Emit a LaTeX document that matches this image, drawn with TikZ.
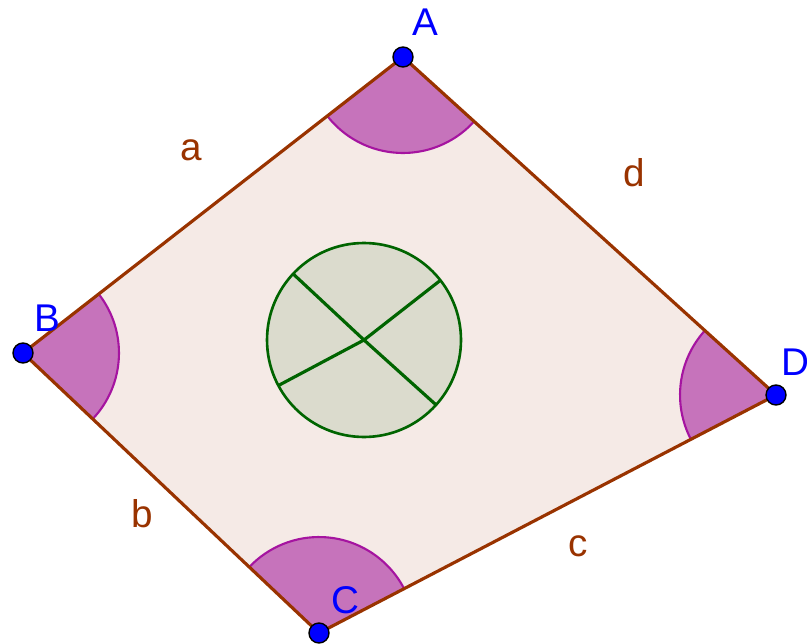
\documentclass[tikz,border=0pt]{standalone}
\usepackage{fontspec}
\setmainfont{Liberation Sans}
\usetikzlibrary{angles}
\definecolor{sidebrown}{RGB}{153,51,0}
\definecolor{quadfill}{RGB}{245,234,230}
\definecolor{anglefill}{RGB}{198,115,187}
\definecolor{angleedge}{RGB}{165,20,160}
\definecolor{discfill}{RGB}{219,219,205}
\definecolor{discgreen}{RGB}{0,100,0}
\definecolor{ptblue}{RGB}{0,0,255}

\begin{document}
\begin{tikzpicture}[x=0.02cm,y=0.02cm,
    side/.style={draw=sidebrown, line width=1.8pt, line join=round},
    sector/.style={draw=angleedge, fill=anglefill, line width=1.2pt, angle radius=1.92cm},
    disc/.style={circle, draw=discgreen, fill=discfill, line width=1.5pt,
        minimum size=3.88cm, inner sep=0pt, outer sep=0pt},
    radial/.style={discgreen, line width=1.8pt},
    vertex/.style={circle, fill=ptblue, draw=black, line width=0.8pt,
        inner sep=0pt, minimum size=0.4cm},
    ptlabel/.style={text=ptblue, font=\fontsize{22}{26}\selectfont},
    sidelabel/.style={text=sidebrown, font=\fontsize{22}{26}\selectfont}]
    \useasboundingbox (0,0) rectangle (807,643);

    % Vertices of the quadrilateral
    \coordinate (A) at (403,586);
    \coordinate (B) at (23,290);
    \coordinate (C) at (319,10);
    \coordinate (D) at (776,248);

    % Interior and angle sectors
    \fill[quadfill] (A) -- (B) -- (C) -- (D) -- cycle;
    \pic[sector] {angle = B--A--D};
    \pic[sector] {angle = C--B--A};
    \pic[sector] {angle = D--C--B};
    \pic[sector] {angle = A--D--C};

    % Sides
    \draw[side] (A) -- (B) -- (C) -- (D) -- cycle;

    % Circle with radii parallel to the sides
    \node[disc] (O) at (364,303) {};
    \foreach \a in {38,-42,137,208} {
        \draw[radial] (O.center) -- (O.\a);
    }

    % Points
    \foreach \p in {A,B,C,D} {
        \node[vertex] (dot\p) at (\p) {};
    }

    % Labels
    \node[ptlabel] (labA) at (425,621) {A};
    \node[ptlabel] (labB) at (47,325) {B};
    \node[ptlabel] (labC) at (345,43) {C};
    \node[ptlabel] (labD) at (795,281) {D};
    \node[sidelabel] (laba) at (191,493) {a};
    \node[sidelabel] (labb) at (142,129) {b};
    \node[sidelabel] (labc) at (578,97) {c};
    \node[sidelabel] (labd) at (634,470) {d};
\end{tikzpicture}
\end{document}
